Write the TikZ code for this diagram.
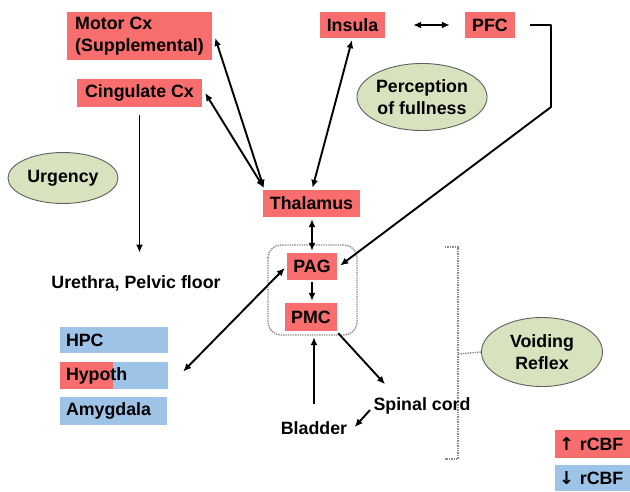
\documentclass[tikz,border=0pt]{standalone}
\usepackage{fontspec}
\setmainfont{Liberation Sans}
\newfontfamily\arrowfont{DejaVu Sans}
\usetikzlibrary{arrows.meta,calc,shapes.geometric}
\definecolor{redc}{RGB}{248,110,110}
\definecolor{bluec}{RGB}{157,195,230}
\definecolor{ellc}{RGB}{215,227,190}
\definecolor{elld}{RGB}{95,95,95}
\definecolor{dotc}{RGB}{140,140,140}
\begin{document}
\begin{tikzpicture}[x=1pt,y=-1pt,
  lbl/.style={font=\fontsize{17.8}{21.5}\selectfont\bfseries, text=black},
  rbox/.style={lbl, fill=redc, inner sep=0pt},
  lbox/.style={lbl, inner ysep=0pt, inner xsep=6pt, align=left},
  ell/.style={lbl, ellipse, fill=ellc, draw=elld, line width=0.9pt, inner sep=0pt, align=center},
  arr/.style={line width=1.9pt, -{Latex[length=8pt,width=7pt]}},
  darr/.style={line width=1.9pt, {Latex[length=8pt,width=7pt]}-{Latex[length=8pt,width=7pt]}},
  dotline/.style={dotc, densely dotted, line width=1.4pt}
]
\useasboundingbox (0,0) rectangle (630,491);
\fill[white] (0,0) rectangle (630,491);

% red boxes
\node[rbox, minimum width=145pt, minimum height=48pt, align=left] (motor) at (139.5,36) {Motor Cx\\(Supplemental)};
\node[rbox, minimum width=125pt, minimum height=28pt] (cing) at (139.5,93) {Cingulate Cx};
\node[rbox, minimum width=65pt, minimum height=26pt] (insula) at (352.5,25) {Insula};
\node[rbox, minimum width=50pt, minimum height=26pt] (pfc) at (490,25) {PFC};
\node[rbox, minimum width=97pt, minimum height=27pt] (thal) at (311.5,203.5) {Thalamus};
\node[rbox, minimum width=50pt, minimum height=27pt] (pag) at (312,266.5) {PAG};
\node[rbox, minimum width=52pt, minimum height=28pt] (pmc) at (311,317) {PMC};

% dashed group
\draw[dotline, rounded corners=13pt] (268,245) rectangle (357,335);

% blue boxes
\node[lbox, fill=bluec, text width=96pt, minimum height=26pt] (hpc) at (114,340) {HPC};
\node[lbox, fill=bluec, text width=96pt, minimum height=27pt,
  path picture={\fill[redc] (path picture bounding box.north west) rectangle ([xshift=53pt]path picture bounding box.south west);}] (hyp) at (114,375.5) {Hypoth};
\node[lbox, fill=bluec, text width=67pt, inner xsep=4pt, minimum height=26pt] (down) at (592.5,478) {{\arrowfont\bfseries ↓} rCBF};
\node[lbox, fill=bluec, text width=95pt, minimum height=28pt] (amyg) at (113.5,411) {Amygdala};

% legend
\node[lbox, fill=redc, text width=67pt, inner xsep=4pt, minimum height=28pt] (up) at (592.5,444) {{\arrowfont\bfseries ↑} rCBF};

% ellipses
\node[ell, minimum width=110pt, minimum height=51pt] (urg) at (63,178) {Urgency};
\node[ell, minimum width=120pt, minimum height=67pt] (perc) at (422,97) {Perception\\of fullness};
\node[ell, minimum width=121pt, minimum height=69pt] (void) at (542,352) {Voiding\\Reflex};

% plain labels
\node[lbl] (ureth) at (136,283) {Urethra, Pelvic floor};
\node[lbl] (spinal) at (422,406) {Spinal cord};
\node[lbl] (bladder) at (314,428) {Bladder};

% bracket
\draw[dotline] (445,247) -- (458,247) -- (458,459) -- (445,459);
\draw[dotline] (458,354) -- (void.west);

% connectors
\coordinate (thtop) at ($(thal.north west)+(1,-2)$);
\draw[darr] (thtop) -- ($(motor.east)+(3,2)$);
\draw[darr] (thtop) -- ($(cing.east)+(3,0)$);
\draw[darr, shorten <=2pt, shorten >=2pt] ($(insula.south)+(0,0)$) -- ($(thal.north)+(0.5,0)$);
\draw[darr] ($(insula.east)+(28,0)$) -- ($(pfc.west)+(-15,0)$);
\coordinate (bend) at (551,107);
\draw[arr, line join=round] ($(pfc.east)+(15,0)$) -| (bend) -- ($(pag.east)+(3,-1)$);
\draw[darr, shorten <=2pt, shorten >=2pt] (thal.south -| pag.north) -- (pag.north);
\draw[arr, shorten <=2pt, shorten >=2pt] (pag.south) -- (pag.south |- pmc.north);
\draw[darr] ($(hyp.east)+(15,-4)$) -- ($(pag.west)+(-2,1.5)$);
\draw[arr, shorten <=8pt, shorten >=19pt] (cing.south) -- (cing.south |- ureth.north);
\draw[arr, shorten <=14pt, shorten >=6pt] (bladder.north) -- (bladder.north |- pmc.south);
\draw[arr] ($(pmc.south east)+(1,2)$) -- ($(spinal.north west)+(15,-10)$);
\draw[arr] ($(spinal.west)+(0,4)$) -- ($(bladder.east)+(4,-1)$);
\end{tikzpicture}
\end{document}
